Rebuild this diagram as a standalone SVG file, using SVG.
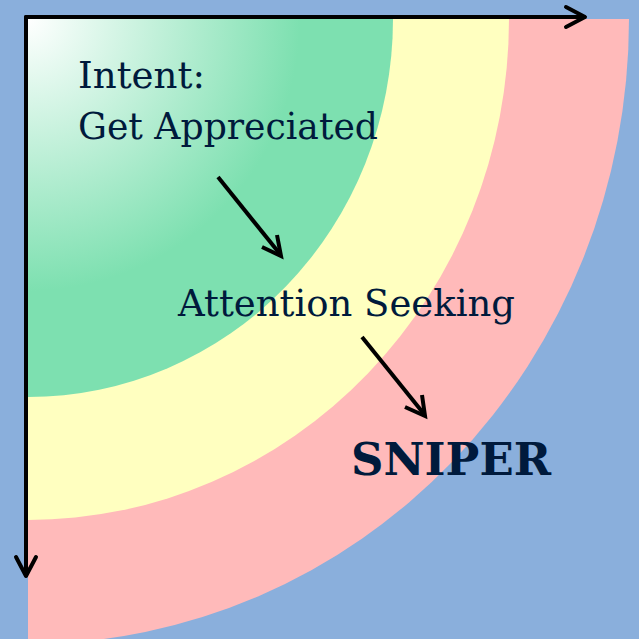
<svg xmlns="http://www.w3.org/2000/svg" width="639" height="639" viewBox="0 0 639 639">
  <defs>
    <radialGradient id="gGreen" gradientUnits="userSpaceOnUse" cx="28" cy="19" r="340">
      <stop offset="0" stop-color="#ffffff"/>
      <stop offset="0.8" stop-color="#7de0b0"/>
      <stop offset="1" stop-color="#7de0b0"/>
    </radialGradient>
    <style>
      .lbl { font-family: "DejaVu Serif", "Liberation Serif", serif; fill: #001a3c; }
      .ax { stroke: #000; stroke-width: 4; fill: none; stroke-linecap: round; stroke-linejoin: round; }
      .ar { stroke: #000; stroke-width: 4; fill: none; stroke-linecap: butt; stroke-linejoin: miter; }
    </style>
  </defs>
  <rect x="0" y="0" width="639" height="639" fill="#8aafdc"/>
  <g id="ring-sniper">
    <path d="M28,19 L629,19 A601,625 0 0 1 28,644 Z" fill="#ffbaba"/>
  </g>
  <g id="ring-attention">
    <path d="M28,19 L509,19 A481,501 0 0 1 28,520 Z" fill="#ffffc0"/>
  </g>
  <g id="ring-intent">
    <path d="M28,19 L393,19 A365,378 0 0 1 28,397 Z" fill="url(#gGreen)"/>
  </g>
  <g id="axes">
    <path class="ax" d="M26,17 H584"/>
    <path class="ax" d="M566,7 L585,17 L566,27"/>
    <path class="ax" d="M26,17 V575"/>
    <path class="ax" d="M16,557 L26,576 L36,557"/>
  </g>
  <g id="connectors">
    <path class="ar" d="M218,177 L280,254"/>
    <path class="ar" d="M262,247 L281,256 L277,235"/>
    <path class="ar" d="M362,337 L424,414"/>
    <path class="ar" d="M405,407 L425,416 L422,395"/>
  </g>
  <g id="node-intent">
    <text class="lbl" x="78" y="88" font-size="38" textLength="127" lengthAdjust="spacingAndGlyphs">Intent:</text>
    <text class="lbl" x="78" y="139" font-size="38" textLength="300" lengthAdjust="spacingAndGlyphs">Get Appreciated</text>
  </g>
  <g id="node-attention">
    <text class="lbl" x="178" y="316" font-size="38" textLength="337" lengthAdjust="spacingAndGlyphs">Attention Seeking</text>
  </g>
  <g id="node-sniper">
    <text class="lbl" x="351" y="475" font-size="44" font-weight="bold" textLength="200" lengthAdjust="spacingAndGlyphs">SNIPER</text>
  </g>
</svg>
